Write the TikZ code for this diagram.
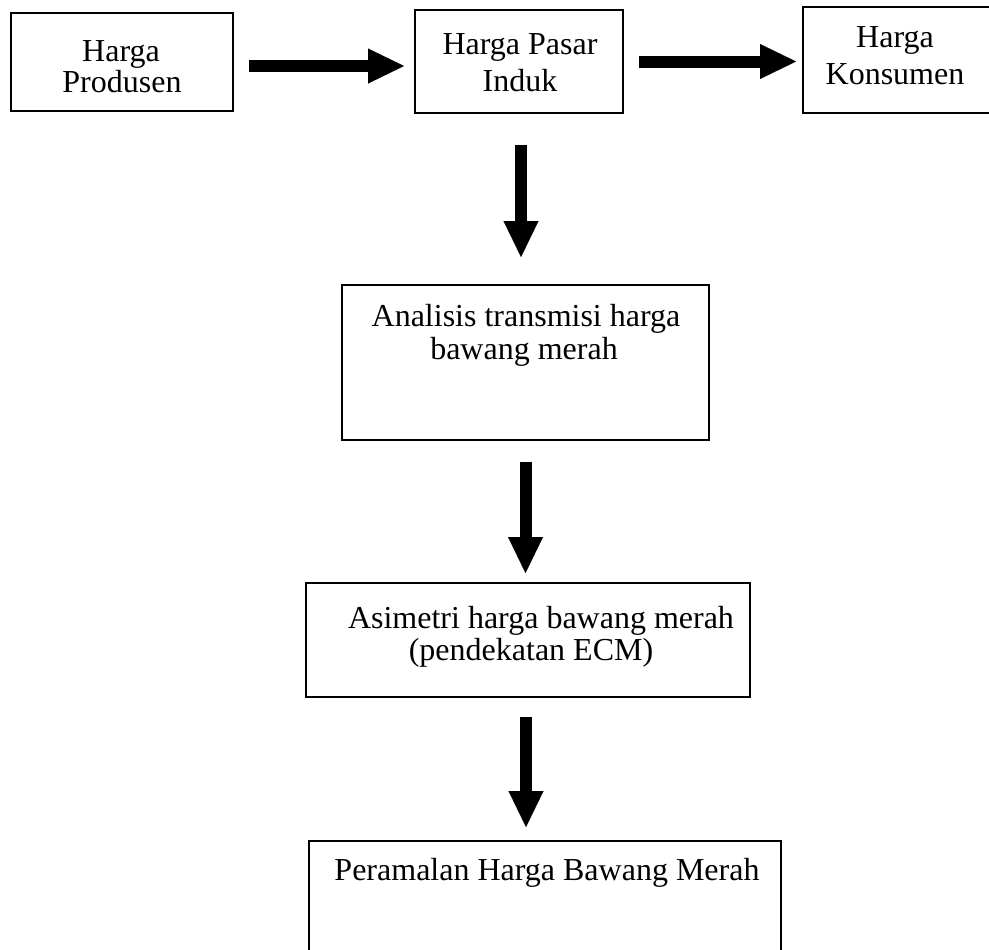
\documentclass[tikz,border=0pt]{standalone}
\usepackage{fontspec}
\setmainfont{Liberation Serif}
\usetikzlibrary{arrows.meta}
\tikzset{
  boxnode/.style={draw, line width=1pt, inner sep=0pt, outer sep=0pt},
  txt/.style={inner sep=0pt, outer sep=0pt, anchor=base, font=\fontsize{16}{19}\selectfont},
  bigarrow/.style={line width=6pt, -{Triangle[length=18pt,width=17.5pt,line width=0.01pt]}}
}
\begin{document}
\begin{tikzpicture}[x=0.5pt,y=-0.5pt]
\useasboundingbox (0,0) rectangle (989,949);
\clip (0,0) rectangle (989,949);
% boxes
\node[boxnode, minimum width=111pt, minimum height=49pt] (b1) at (122,62) {};
\node[boxnode, minimum width=104pt, minimum height=51.5pt] (b2) at (519,61.5) {};
\node[boxnode, minimum width=96pt, minimum height=53pt] (b3) at (899,60) {};
\node[boxnode, minimum width=183.5pt, minimum height=77.5pt] (b4) at (525.5,362.5) {};
\node[boxnode, minimum width=222pt, minimum height=57pt] (b5) at (528,640) {};
\node[boxnode, minimum width=236pt, minimum height=59.5pt] (b6) at (545,900.5) {};
% texts
\node[txt] (t1a) at (121,61) {Harga};
\node[txt] (t1b) at (122,92) {Produsen};
\node[txt] (t2a) at (520,54) {Harga Pasar};
\node[txt] (t2b) at (520,91) {Induk};
\node[txt] (t3a) at (895,47) {Harga};
\node[txt] (t3b) at (895,84) {Konsumen};
\node[txt] (t4a) at (526,326) {Analisis transmisi harga};
\node[txt] (t4b) at (524,359) {bawang merah};
\node[txt] (t5a) at (541,628) {Asimetri harga bawang merah};
\node[txt] (t5b) at (531,660) {(pendekatan ECM)};
\node[txt] (t6) at (547,880) {Peramalan Harga Bawang Merah};
% arrows
\draw[bigarrow, shorten <=8pt, shorten >=5.5pt]
  ([yshift=-2pt]b1.east) -- ([yshift=-2pt]b1.east -| b2.west);
\draw[bigarrow, shorten <=8pt, shorten >=3.5pt]
  (b2.east) -- (b2.east -| b3.west);
\draw[bigarrow, shorten <=16pt, shorten >=14pt]
  ([xshift=1pt]b2.south) -- ([xshift=1pt]b2.south |- b4.north);
\draw[bigarrow, shorten <=11pt, shorten >=5pt]
  (b4.south) -- (b4.south |- b5.north);
\draw[bigarrow, shorten <=10pt, shorten >=7pt]
  ([xshift=-1pt]b5.south) -- ([xshift=-1pt]b5.south |- b6.north);
\end{tikzpicture}
\end{document}
